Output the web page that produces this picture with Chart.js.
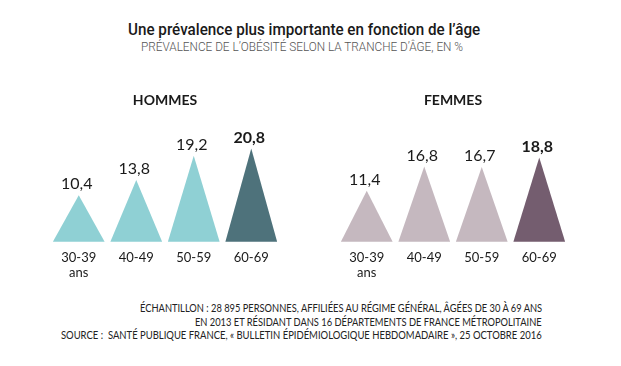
<!DOCTYPE html>
<html>
<head>
<meta charset="utf-8">
<script src="https://cdn.jsdelivr.net/npm/chart.js@4.4.1/dist/chart.umd.min.js"></script>
<style>
  body { margin: 0; background: #fff; }
  #wrap { position: relative; width: 621px; height: 366px; overflow: hidden; background: #fff; }
  .t { position: absolute; white-space: nowrap; line-height: 1; }
  .t span { display: inline-block; }
  #title { left: 0; width: 608px; top: 20px; text-align: center; font: 500 16.5px Roboto, sans-serif; color: #1a1a1a; }
  #title span, #sub span { transform-origin: center; }
  #sub { left: 0; width: 604px; top: 40px; text-align: center; font: 300 12px Roboto, sans-serif; color: #555; }
  .foot { right: 79px; text-align: right; font: 400 11px Lato, sans-serif; color: #222; }
  .foot span { transform-origin: right; }
  canvas { position: absolute; }
  #hommes { left: 50px; top: 85px; }
  #femmes { left: 338px; top: 85px; }
</style>
</head>
<body>
<div id="wrap">
  <div class="t" id="title"><span data-w="352">Une prévalence plus importante en fonction de l’âge</span></div>
  <div class="t" id="sub"><span data-w="322">PRÉVALENCE DE L’OBÉSITÉ SELON LA TRANCHE D’ÂGE, EN %</span></div>
  <canvas id="hommes" width="230" height="204"></canvas>
  <canvas id="femmes" width="230" height="204"></canvas>
  <div class="t foot" style="top:301px"><span data-w="402">ÉCHANTILLON : 28 895 PERSONNES, AFFILIÉES AU RÉGIME GÉNÉRAL, ÂGÉES DE 30 À 69 ANS</span></div>
  <div class="t foot" style="top:315px"><span data-w="347">EN 2013 ET RÉSIDANT DANS 16 DÉPARTEMENTS DE FRANCE MÉTROPOLITAINE</span></div>
  <div class="t foot" style="top:328px"><span data-w="481">SOURCE :&nbsp; SANTÉ PUBLIQUE FRANCE, « BULLETIN ÉPIDÉMIOLOGIQUE HEBDOMADAIRE », 25 OCTOBRE 2016</span></div>
</div>
<script>
// données
const AGES = [['30-39', 'ans'], '40-49', '50-59', '60-69'];
const HOMMES = [10.4, 13.8, 19.2, 20.8];
const FEMMES = [11.4, 16.8, 16.7, 18.8];
const Y_MAX = 25;

const HOMMES_COLORS = ['#8fd0d4', '#8fd0d4', '#8fd0d4', '#4e727b'];
const FEMMES_COLORS = ['#c5b8bf', '#c5b8bf', '#c5b8bf', '#745d6f'];

Chart.defaults.font.family = 'Lato, sans-serif';
Chart.defaults.color = '#1a1a1a';

// dessine des triangles à la place des barres, avec la valeur au-dessus
const triangles = {
  id: 'triangles',
  beforeDatasetsDraw(chart) {
    const ctx = chart.ctx;
    const values = chart.data.datasets[0].data;
    chart.getDatasetMeta(0).data.forEach((bar, i) => {
      const { x, y, base, width } = bar.getProps(['x', 'y', 'base', 'width'], true);
      ctx.save();
      ctx.fillStyle = bar.options.backgroundColor;
      ctx.beginPath();
      ctx.moveTo(x - width / 2, base);
      ctx.lineTo(x, y);
      ctx.lineTo(x + width / 2, base);
      ctx.closePath();
      ctx.fill();

      const last = i === values.length - 1;
      ctx.font = (last ? 'bold ' : '') + '16px Lato, sans-serif';
      ctx.fillStyle = '#1a1a1a';
      ctx.textAlign = 'center';
      ctx.textBaseline = 'alphabetic';
      ctx.fillText(String(values[i]).replace('.', ','), x - 2, y - 6);
      ctx.restore();
    });
    return false;
  }
};

function makeChart(id, title, values, colors) {
  return new Chart(document.getElementById(id), {
    type: 'bar',
    data: {
      labels: AGES,
      datasets: [{
        data: values,
        backgroundColor: colors,
        barPercentage: 0.9,
        categoryPercentage: 1
      }]
    },
    options: {
      responsive: false,
      animation: false,
      layout: { padding: 0 },
      plugins: {
        legend: { display: false },
        tooltip: { enabled: false },
        title: {
          display: true,
          text: title,
          font: { size: 14, weight: 'bold' },
          color: '#1a1a1a',
          padding: { top: 7, bottom: 21 }
        }
      },
      scales: {
        x: {
          grid: { display: false, drawTicks: false },
          border: { display: false },
          ticks: { font: { size: 13, lineHeight: 1.2 }, color: '#1a1a1a', padding: 8, maxRotation: 0 }
        },
        y: { display: false, min: 0, max: Y_MAX }
      }
    },
    plugins: [triangles]
  });
}

makeChart('hommes', 'HOMMES', HOMMES, HOMMES_COLORS);
makeChart('femmes', 'FEMMES', FEMMES, FEMMES_COLORS);

// ajuste la largeur des textes condensés
document.querySelectorAll('.t span').forEach(s => {
  const w = +s.dataset.w;
  s.style.transform = 'scaleX(' + (w / s.offsetWidth) + ')';
});
</script>
</body>
</html>
